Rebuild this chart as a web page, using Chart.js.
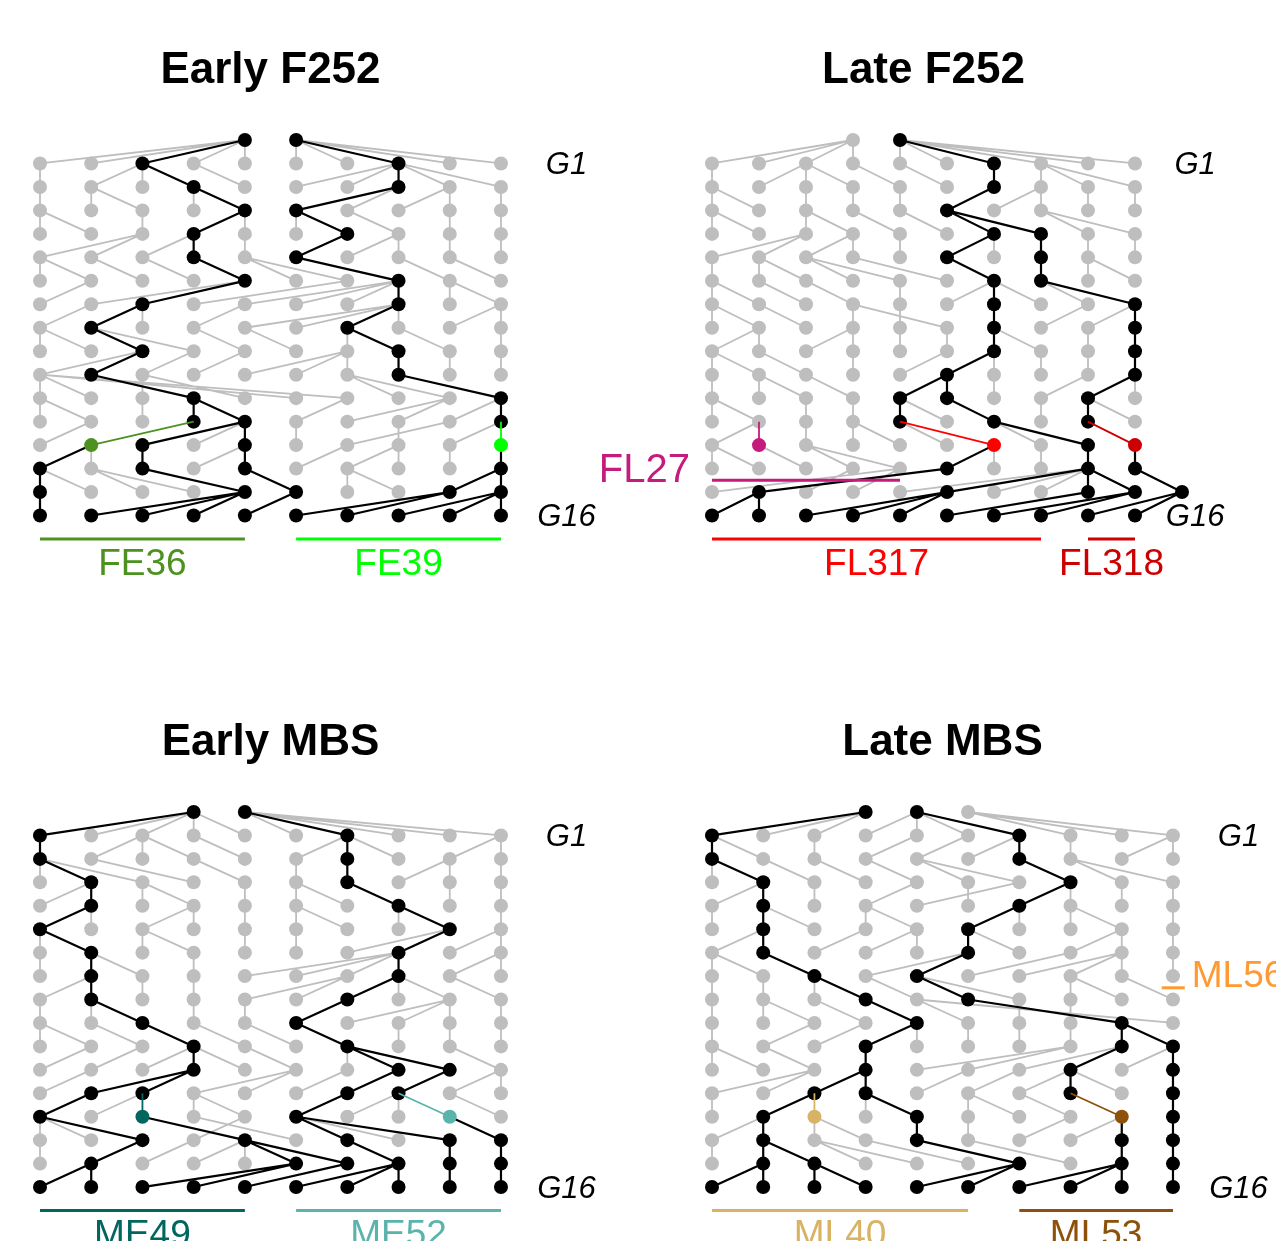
<!DOCTYPE html>
<html lang="en">
<head>
<meta charset="UTF-8">
<title>Lineages F252 / MBS</title>
<script src="https://cdn.jsdelivr.net/npm/chart.js"></script>
<style>
  body { margin: 0; background: #fff; }
  #wrap { position: relative; width: 1276px; height: 1241px; overflow: hidden; }
  #wrap canvas { position: absolute; }
</style>
</head>
<body>
<div id="wrap">
  <canvas id="earlyF252"></canvas>
  <canvas id="lateF252"></canvas>
  <canvas id="earlyMBS"></canvas>
  <canvas id="lateMBS"></canvas>
</div>
<script>
// parent column (in the generation above) of each individual, generations 1..16
const earlyF252Roots = [4, 5];
const earlyF252Parents = [
  [4, 4, 4, 4, 4, 5, 5, 5, 5, 5],
  [0, 2, 2, 2, 3, 7, 7, 7, 7, 7],
  [0, 1, 1, 3, 3, 7, 7, 8, 8, 9],
  [0, 0, 2, 4, 4, 5, 5, 6, 8, 9],
  [2, 2, 3, 3, 4, 6, 7, 7, 8, 9],
  [0, 0, 1, 2, 3, 4, 4, 5, 7, 8],
  [1, 4, 4, 6, 7, 7, 7, 7, 8, 8],
  [1, 2, 2, 4, 7, 7, 7, 7, 9, 9],
  [0, 0, 1, 1, 3, 4, 6, 6, 7, 9],
  [2, 2, 3, 4, 6, 6, 6, 7, 8, 9],
  [0, 0, 2, 1, 2, 0, 0, 6, 6, 7],
  [0, 0, 2, 3, 3, 6, 8, 8, 9, 9],
  [1, 3, 4, 4, 4, 5, 8, 7, 9, 9],
  [1, 1, 2, 4, 4, 6, 7, 7, 8, 9],
  [0, 0, 1, 1, 2, 4, 6, 6, 9, 9],
  [0, 4, 4, 4, 5, 8, 8, 9, 9, 9]
];
const earlyF252Marks = [[13, 1, 'FE36'], [13, 9, 'FE39']];
const earlyF252Pops = [['FE36', 0, 4, 17], ['FE39', 5, 9, 17]];

const lateF252Roots = [3, 4];
const lateF252Parents = [
  [3, 3, 3, 3, 4, 4, 4, 4, 4, 4],
  [0, 2, 2, 2, 3, 4, 6, 7, 7, 7],
  [0, 0, 2, 3, 4, 6, 7, 7, 8, 9],
  [0, 0, 2, 2, 3, 4, 5, 5, 7, 7],
  [2, 2, 3, 3, 4, 6, 6, 7, 8, 9],
  [0, 1, 1, 2, 2, 3, 5, 7, 8, 8],
  [0, 0, 1, 2, 4, 6, 6, 6, 7, 7],
  [0, 0, 1, 3, 4, 3, 6, 8, 9, 9],
  [1, 1, 3, 3, 4, 5, 6, 6, 8, 9],
  [0, 0, 1, 3, 5, 6, 6, 7, 8, 9],
  [0, 1, 1, 2, 5, 5, 6, 8, 9, 9],
  [0, 0, 2, 3, 4, 4, 5, 7, 8, 8],
  [1, 1, 2, 3, 3, 4, 4, 6, 6, 8],
  [0, 0, 1, 2, 2, 6, 6, 7, 8, 9],
  [4, 5, 3, 4, 8, 8, 8, 8, 8, 8, 9],
  [1, 1, 5, 5, 5, 8, 9, 9, 10, 10]
];
const lateF252Marks = [[13, 1, 'FL27'], [13, 6, 'FL317'], [13, 9, 'FL318']];
const lateF252Pops = [['FL27', 0, 4, 14.5], ['FL317', 0, 7, 17], ['FL318', 8, 9, 17]];

const earlyMBSRoots = [3, 4];
const earlyMBSParents = [
  [3, 3, 3, 3, 3, 4, 4, 4, 4, 4],
  [0, 2, 2, 2, 3, 6, 6, 6, 9, 9],
  [0, 0, 0, 1, 3, 5, 6, 8, 8, 9],
  [1, 1, 2, 2, 4, 5, 5, 6, 8, 9],
  [1, 1, 3, 3, 4, 5, 5, 7, 7, 9],
  [0, 0, 2, 2, 4, 5, 8, 8, 9, 9],
  [0, 1, 1, 3, 7, 7, 7, 7, 9, 9],
  [1, 1, 2, 3, 6, 6, 7, 7, 7, 8],
  [0, 1, 1, 3, 4, 6, 8, 8, 8, 9],
  [0, 0, 1, 2, 3, 4, 5, 7, 8, 9],
  [1, 2, 3, 3, 3, 4, 6, 6, 6, 8],
  [1, 3, 3, 5, 5, 6, 7, 8, 9, 9],
  [1, 2, 2, 3, 3, 6, 7, 7, 7, 8],
  [0, 0, 0, 4, 2, 3, 5, 5, 5, 8],
  [0, 2, 3, 4, 4, 4, 4, 6, 8, 9],
  [1, 1, 5, 5, 6, 7, 7, 7, 8, 9]
];
const earlyMBSMarks = [[13, 2, 'ME49'], [13, 8, 'ME52']];
const earlyMBSPops = [['ME49', 0, 4, 17], ['ME52', 5, 9, 17]];

const lateMBSRoots = [3, 4, 5];
const lateMBSParents = [
  [3, 3, 3, 4, 4, 4, 4, 5, 5, 5],
  [0, 0, 2, 4, 5, 6, 6, 7, 9, 9],
  [0, 0, 1, 2, 3, 4, 4, 6, 7, 7],
  [1, 1, 2, 4, 6, 5, 7, 7, 8, 9],
  [0, 1, 1, 3, 3, 6, 6, 7, 7, 9],
  [1, 1, 3, 4, 4, 5, 5, 8, 8, 9],
  [0, 0, 1, 5, 5, 7, 8, 8, 8, 9],
  [0, 1, 2, 2, 3, 4, 4, 7, 7, 8],
  [0, 1, 1, 2, 3, 4, 6, 7, 5, 4],
  [0, 2, 3, 4, 4, 5, 6, 7, 8, 8],
  [0, 0, 1, 3, 7, 7, 8, 8, 9, 9],
  [2, 2, 3, 3, 5, 6, 7, 7, 7, 9],
  [0, 2, 2, 3, 3, 5, 5, 6, 7, 9],
  [1, 1, 2, 2, 4, 5, 7, 8, 8, 9],
  [0, 1, 1, 2, 2, 3, 4, 5, 8, 9],
  [1, 1, 2, 2, 6, 6, 8, 8, 8, 9]
];
const lateMBSMarks = [[13, 2, 'ML40'], [13, 8, 'ML53']];
const lateMBSPops = [['ML56', 8.78, 9.23, 7.5], ['ML40', 0, 5, 17], ['ML53', 6, 9, 17]];

// styles
const GRAY = '#bebebe';
const FONT = '"Liberation Sans", Arial, Helvetica, sans-serif';
const popColor = {
  FE36: '#4d9221', FE39: '#00ff00',
  FL27: '#c51b7d', FL317: '#ff0000', FL318: '#cc0000',
  ME49: '#01665e', ME52: '#5ab4ac',
  ML40: '#d8b365', ML53: '#8c510a', ML56: '#ff9933'
};

function textPlugin(items) {
  return {
    id: 'panelText',
    afterDatasetsDraw(chart) {
      const { ctx, scales } = chart;
      items.forEach(t => {
        ctx.save();
        ctx.font = t.font;
        ctx.fillStyle = t.color;
        ctx.textAlign = t.align;
        ctx.textBaseline = 'middle';
        ctx.fillText(t.text, scales.x.getPixelForValue(t.x), scales.y.getPixelForValue(t.y));
        ctx.restore();
      });
    }
  };
}

function drawPanel(id, box, title, roots, parents, marks, pops) {
  const nGen = parents.length;
  const lastCol = 9;

  // individuals with descendants in the last generation are black
  const black = [];
  black[nGen] = new Set();
  parents[nGen - 1].forEach((p, c) => black[nGen].add(c));
  for (let g = nGen; g >= 1; g--) {
    black[g - 1] = new Set();
    black[g].forEach(c => black[g - 1].add(parents[g - 1][c]));
  }
  const markOf = {};
  marks.forEach(([g, c, name]) => { markOf[g + '-' + c] = name; });

  const grayLinks = [], blackLinks = [], grayNodes = [], blackNodes = [];
  const markLinks = {}, markNodes = {};
  roots.forEach(c => (black[0].has(c) ? blackNodes : grayNodes).push({ x: c, y: 0 }));
  parents.forEach((row, i) => {
    const g = i + 1;
    row.forEach((p, c) => {
      const seg = [{ x: c, y: g }, { x: p, y: g - 1 }, { x: null, y: null }];
      const node = { x: c, y: g };
      const m = markOf[g + '-' + c];
      if (m) {
        (markLinks[m] = markLinks[m] || []).push(...seg);
        (markNodes[m] = markNodes[m] || []).push(node);
      } else if (black[g].has(c)) {
        blackLinks.push(...seg); blackNodes.push(node);
      } else {
        grayLinks.push(...seg); grayNodes.push(node);
      }
    });
  });

  const lineSet = (data, color, width, order) => ({
    data, showLine: true, borderColor: color, borderWidth: width,
    pointRadius: 0, pointHoverRadius: 0, spanGaps: false, order, clip: false
  });
  const dotSet = (data, color, order) => ({
    data, showLine: false, pointRadius: 7, pointHoverRadius: 7,
    backgroundColor: color, borderColor: color, pointBorderWidth: 0, order, clip: false
  });

  const datasets = [
    lineSet(grayLinks, GRAY, 1.8, 6),
    dotSet(grayNodes, GRAY, 5),
    lineSet(blackLinks, '#000', 2.2, 4),
    dotSet(blackNodes, '#000', 3)
  ];
  Object.keys(markLinks).forEach(m => {
    datasets.push(lineSet(markLinks[m], popColor[m], 1.8, 2));
    datasets.push(dotSet(markNodes[m], popColor[m], 1));
  });

  const texts = [
    { text: title, x: lastCol / 2, y: -2.95, font: 'bold 44px ' + FONT, color: '#000', align: 'center' },
    { text: 'G1', x: lastCol + 1.28, y: 1.1, font: 'italic 31px ' + FONT, color: '#000', align: 'center' },
    { text: 'G' + nGen, x: lastCol + 1.28, y: nGen + 0.1, font: 'italic 31px ' + FONT, color: '#000', align: 'center' }
  ];
  pops.forEach(([name, from, to, gen]) => {
    datasets.push(lineSet([{ x: from, y: gen }, { x: to, y: gen }], popColor[name], 3, 2));
    if (gen > nGen) {
      texts.push({ text: name, x: (from + to) / 2, y: gen + 1.1, font: '37px ' + FONT, color: popColor[name], align: 'center' });
    } else if (from <= 0) {
      texts.push({ text: name, x: from - 22 / box.dx, y: gen - 0.4, font: '40px ' + FONT, color: popColor[name], align: 'right' });
    } else {
      texts.push({ text: name, x: to + 7 / box.dx, y: gen - 0.45, font: '37px ' + FONT, color: popColor[name], align: 'left' });
    }
  });

  const cv = document.getElementById(id);
  cv.width = box.w; cv.height = box.h;
  cv.style.left = box.left + 'px'; cv.style.top = box.top + 'px';
  cv.style.width = box.w + 'px'; cv.style.height = box.h + 'px';

  new Chart(cv, {
    type: 'scatter',
    data: { datasets },
    options: {
      responsive: false,
      animation: false,
      events: [],
      layout: { padding: 0, autoPadding: false },
      plugins: { legend: { display: false }, tooltip: { enabled: false } },
      scales: {
        x: { type: 'linear', display: false,
             min: (box.left - box.x0) / box.dx, max: (box.left + box.w - box.x0) / box.dx },
        y: { type: 'linear', display: false, reverse: true,
             min: (box.top - box.y0) / box.dy, max: (box.top + box.h - box.y0) / box.dy }
      }
    },
    plugins: [textPlugin(texts)]
  });
}

// panel placement on the page (pixels)
drawPanel('earlyF252', { left: 0, top: 0, w: 620, h: 625, x0: 40, dx: 51.22, y0: 140, dy: 23.47 },
  'Early F252', earlyF252Roots, earlyF252Parents, earlyF252Marks, earlyF252Pops);
drawPanel('lateF252', { left: 560, top: 0, w: 716, h: 625, x0: 712, dx: 47, y0: 140, dy: 23.47 },
  'Late F252', lateF252Roots, lateF252Parents, lateF252Marks, lateF252Pops);
drawPanel('earlyMBS', { left: 0, top: 625, w: 620, h: 616, x0: 40, dx: 51.22, y0: 812, dy: 23.44 },
  'Early MBS', earlyMBSRoots, earlyMBSParents, earlyMBSMarks, earlyMBSPops);
drawPanel('lateMBS', { left: 620, top: 625, w: 656, h: 616, x0: 712, dx: 51.22, y0: 812, dy: 23.44 },
  'Late MBS', lateMBSRoots, lateMBSParents, lateMBSMarks, lateMBSPops);
</script>
</body>
</html>
